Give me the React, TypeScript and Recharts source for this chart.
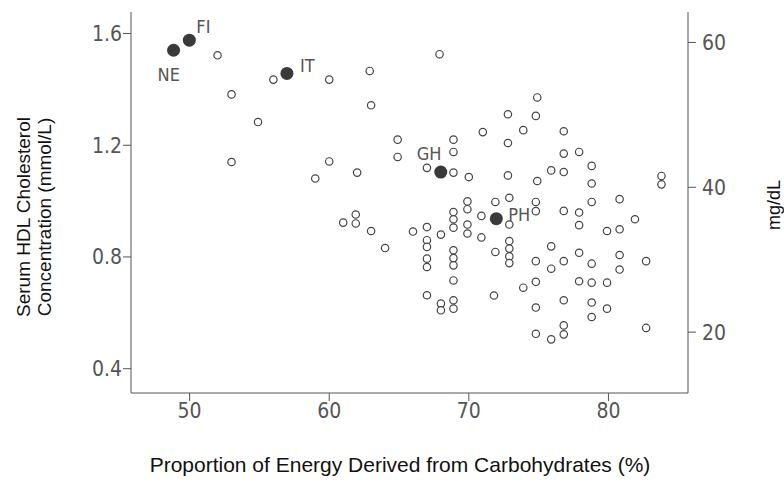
import React from 'react';
import { ScatterChart, Scatter, XAxis, YAxis, Label } from 'recharts';

// open circles: % energy from carbohydrates vs HDL (mmol/L)
const openCarb = [
  52.0, 53.0, 54.9, 53.0, 56.0, 60.0, 62.9, 63.0, 64.9, 64.9, 60.0, 59.0, 62.0,
  67.9, 74.9, 74.8, 72.8, 73.9, 71.0, 76.8, 72.8, 68.9, 68.9, 67.0, 68.9, 70.0,
  76.8, 77.9, 75.9, 76.8, 78.8, 78.8, 72.8, 74.9, 83.8, 83.8, 78.8, 80.8,
  61.0, 61.9, 61.9, 63.0, 64.0, 66.0,
  67.0, 67.0, 67.0, 67.0, 67.0, 67.0, 68.0, 68.0, 68.0,
  68.9, 68.9, 68.9, 68.9, 68.9, 68.9, 68.9, 68.9, 68.9,
  69.9, 69.9, 69.9, 69.9, 70.9, 70.9, 71.9, 71.9, 71.8,
  72.9, 72.9, 72.9, 72.9, 72.9, 72.9, 74.8, 74.8, 76.8, 77.9,
  77.9, 81.9, 79.9, 80.8, 75.9, 74.8, 75.9, 76.8, 77.9, 78.8, 80.8, 80.8, 82.7,
  74.8, 73.9, 77.9, 78.8, 79.9, 74.8, 76.8, 78.8, 78.8, 79.9,
  74.8, 75.9, 76.8, 76.8, 82.7,
];
const openHdl = [
  1.522, 1.382, 1.283, 1.140, 1.435, 1.435, 1.466, 1.343, 1.220, 1.158, 1.142, 1.081, 1.102,
  1.526, 1.371, 1.305, 1.311, 1.254, 1.247, 1.250, 1.208, 1.220, 1.176, 1.119, 1.102, 1.086,
  1.170, 1.176, 1.110, 1.104, 1.126, 1.063, 1.092, 1.072, 1.090, 1.060, 0.997, 1.007,
  0.923, 0.952, 0.920, 0.893, 0.832, 0.891,
  0.907, 0.860, 0.836, 0.794, 0.764, 0.663, 0.880, 0.633, 0.609,
  0.961, 0.935, 0.905, 0.824, 0.796, 0.770, 0.716, 0.645, 0.615,
  0.999, 0.971, 0.916, 0.884, 0.947, 0.870, 0.997, 0.818, 0.662,
  1.012, 0.916, 0.857, 0.830, 0.802, 0.778, 0.997, 0.964, 0.965, 0.959,
  0.914, 0.935, 0.893, 0.899, 0.838, 0.785, 0.758, 0.785, 0.815, 0.776, 0.807, 0.755, 0.785,
  0.711, 0.690, 0.713, 0.708, 0.708, 0.619, 0.645, 0.637, 0.585, 0.615,
  0.525, 0.505, 0.555, 0.523, 0.546,
];

// highlighted countries
const countries = ['NE', 'FI', 'IT', 'GH', 'PH'];
const countryCarb = [48.85, 49.98, 56.97, 67.99, 71.97];
const countryHdl = [1.540, 1.576, 1.457, 1.104, 0.937];

const xTicks = [50, 60, 70, 80];
const leftTicks = [0.4, 0.8, 1.2, 1.6];
const rightTicks = [20, 40, 60];

const openData = openCarb.map((c, i) => ({ carb: c, hdl: openHdl[i] }));
const countryData = countries.map((name, i) => ({ name, carb: countryCarb[i], hdl: countryHdl[i] }));

// label placement relative to the dot
const labelOffset: Record<string, [number, number]> = {
  NE: [-16, 31],
  FI: [7, -7],
  IT: [13, -1],
  GH: [-24, -12],
  PH: [12, 2],
};

const narrow = '"Liberation Sans Narrow", "DejaVu Sans Condensed", sans-serif';
const titleFont = '"Liberation Sans", Arial, sans-serif';
const tickFont = { fontFamily: narrow, fontSize: 21, fill: '#555' };

const OpenDot = (props: any) => {
  const { cx, cy } = props;
  return <circle cx={cx} cy={cy} r={3.7} fill="#fff" stroke="#444" strokeWidth={1.2} />;
};

const CountryDot = (props: any) => {
  const { cx, cy, payload } = props;
  const [dx, dy] = labelOffset[payload.name] || [8, -6];
  return (
    <g>
      <circle cx={cx} cy={cy} r={6.5} fill="#3a3a3a" />
      <text x={cx + dx} y={cy + dy} fontFamily={narrow} fontSize={18} fill="#555">
        {payload.name}
      </text>
    </g>
  );
};

const LeftTitle = () => (
  <g fontFamily={titleFont} fontSize={19} fill="#111" textAnchor="middle">
    <text transform="translate(30,217) rotate(-90)">Serum HDL Cholesterol</text>
    <text transform="translate(51,217) rotate(-90)">Concentration (mmol/L)</text>
  </g>
);

const BottomTitle = () => (
  <text x={400} y={472} textAnchor="middle" fontFamily={titleFont} fontSize={21} fill="#111">
    Proportion of Energy Derived from Carbohydrates (%)
  </text>
);

const RightTitle = () => (
  <text transform="translate(780,205) rotate(-90)" textAnchor="middle" fontFamily={titleFont} fontSize={18} fill="#111">
    mg/dL
  </text>
);

export default function App() {
  return (
    <div style={{ position: 'absolute', left: 0, top: 0, background: '#fff' }}>
      <ScatterChart width={784} height={480} margin={{ top: 12, right: 16, bottom: 27, left: 61 }}>
        <XAxis
          xAxisId="bottom"
          type="number"
          dataKey="carb"
          domain={[45.8, 85.7]}
          ticks={xTicks}
          allowDataOverflow
          stroke="#555"
          tickSize={8}
          tick={tickFont}
          height={60}
        >
          <Label content={<BottomTitle />} />
        </XAxis>
        <XAxis xAxisId="top" orientation="top" type="number" dataKey="carb" domain={[45.8, 85.7]} tick={false} tickLine={false} stroke="#555" height={0} />
        <YAxis
          yAxisId="left"
          type="number"
          dataKey="hdl"
          domain={[0.313, 1.677]}
          ticks={leftTicks}
          allowDataOverflow
          tickFormatter={(v: number) => v.toFixed(1)}
          stroke="#555"
          tickSize={8}
          tick={{ ...tickFont, dx: 1 }}
          width={70}
        >
          <Label content={<LeftTitle />} />
        </YAxis>
        <YAxis
          yAxisId="right"
          orientation="right"
          type="number"
          domain={[11.6, 64.2]}
          ticks={rightTicks}
          allowDataOverflow
          stroke="#555"
          tickSize={8}
          tick={{ ...tickFont, dx: 4 }}
          width={80}
        >
          <Label content={<RightTitle />} />
        </YAxis>
        <Scatter data={openData} xAxisId="bottom" yAxisId="left" shape={<OpenDot />} isAnimationActive={false} />
        <Scatter data={countryData} xAxisId="bottom" yAxisId="left" shape={<CountryDot />} isAnimationActive={false} />
      </ScatterChart>
    </div>
  );
}
